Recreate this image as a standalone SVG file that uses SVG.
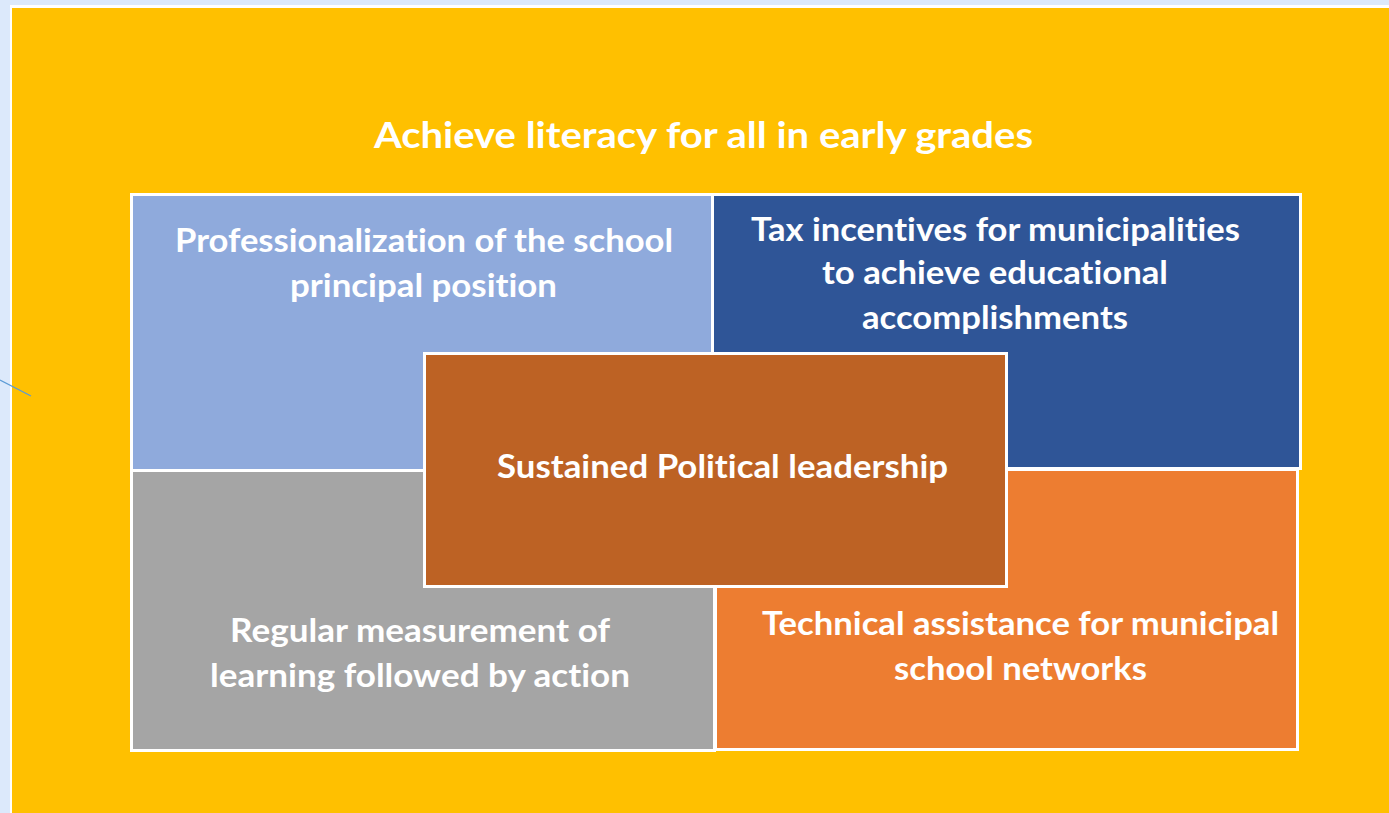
<svg xmlns="http://www.w3.org/2000/svg" width="1389" height="813" viewBox="0 0 1389 813">
<style>
.t{font-family:Lato,"Open Sans","Liberation Sans",sans-serif;font-weight:bold;fill:#ffffff;text-anchor:middle;font-size:33px;font-variant-ligatures:none;font-feature-settings:"liga" 0,"dlig" 0}
.b{stroke:#ffffff;stroke-width:3}
</style>
<rect x="0" y="0" width="1389" height="813" fill="#dce9fb"/>
<rect x="10" y="5" width="1379" height="808" fill="#ffffff"/>
<rect x="12" y="8" width="1377" height="805" fill="#ffc000"/>
<line x1="0" y1="380" x2="31" y2="396" stroke="#5b9bd5" stroke-width="1.2"/>
<text class="t" x="703.5" y="148" style="font-size:36px" textLength="659" lengthAdjust="spacingAndGlyphs">Achieve literacy for all in early grades</text>
<g id="principal">
<rect class="b" x="131.5" y="194.5" width="581" height="276" fill="#8faadc"/>
<text class="t" x="424" y="252" textLength="498" lengthAdjust="spacingAndGlyphs">Professionalization of the school</text>
<text class="t" x="423.5" y="297" textLength="267" lengthAdjust="spacingAndGlyphs">principal position</text>
</g>
<g id="tax">
<rect class="b" x="712.5" y="194.5" width="588" height="274" fill="#2f5597"/>
<text class="t" x="995.5" y="241" textLength="489" lengthAdjust="spacingAndGlyphs">Tax incentives for municipalities</text>
<text class="t" x="995" y="284" textLength="346" lengthAdjust="spacingAndGlyphs">to achieve educational</text>
<text class="t" x="995" y="329" textLength="266" lengthAdjust="spacingAndGlyphs">accomplishments</text>
</g>
<g id="measurement">
<rect class="b" x="131.5" y="470.5" width="583" height="280" fill="#a5a5a5"/>
<text class="t" x="420" y="642" textLength="380" lengthAdjust="spacingAndGlyphs">Regular measurement of</text>
<text class="t" x="420" y="687" textLength="420" lengthAdjust="spacingAndGlyphs">learning followed by action</text>
</g>
<g id="technical">
<rect class="b" x="715.5" y="469.5" width="582" height="280" fill="#ed7d31"/>
<text class="t" x="1020.5" y="635" textLength="517" lengthAdjust="spacingAndGlyphs">Technical assistance for municipal</text>
<text class="t" x="1020.5" y="680" textLength="253" lengthAdjust="spacingAndGlyphs">school networks</text>
</g>
<g id="political">
<rect class="b" x="424.5" y="353.5" width="582" height="233" fill="#bd6224"/>
<text class="t" x="722.5" y="478" textLength="451" lengthAdjust="spacingAndGlyphs">Sustained Political leadership</text>
</g>
<g id="connectors"/>
</svg>
